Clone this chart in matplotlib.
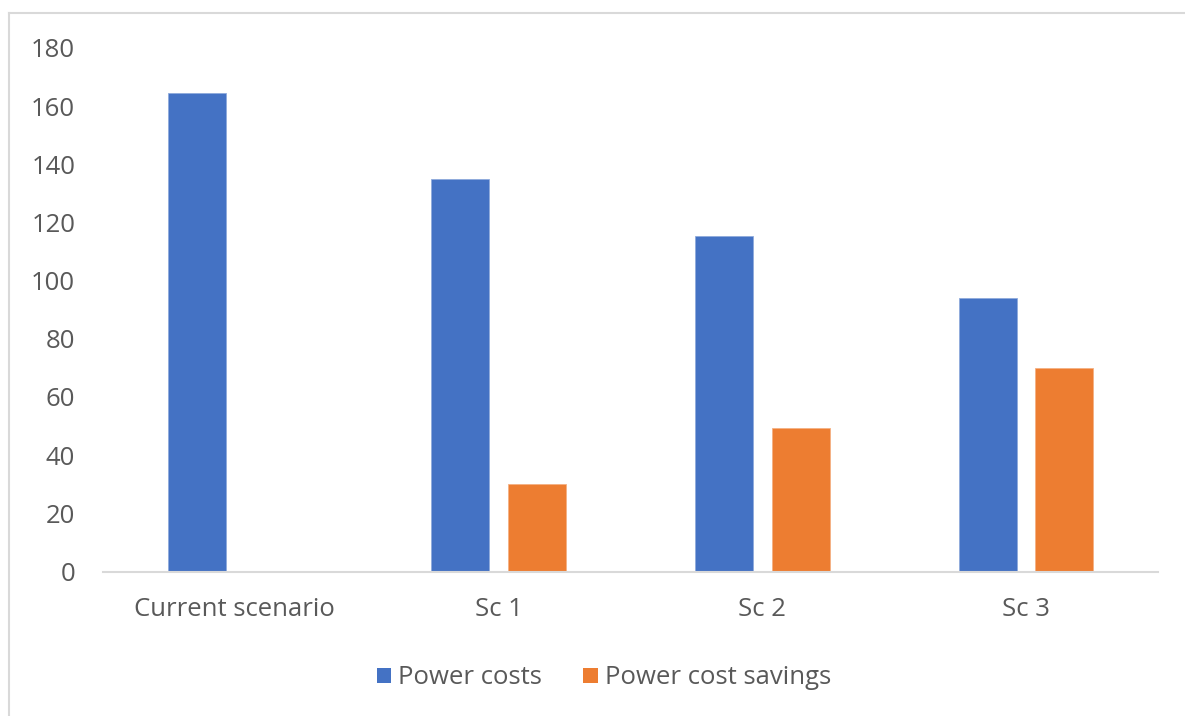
import numpy as np
import matplotlib
matplotlib.use('Agg')
from matplotlib import pyplot as plt
from matplotlib.lines import Line2D
from matplotlib.patches import Patch

categories = ['Current scenario', 'Sc 1', 'Sc 2', 'Sc 3']
power_costs = [164.5, 135, 115.5, 94]
power_savings = [0, 30, 49.5, 70]
series_names = ['Power costs', 'Power cost savings']
colors = ['#4472C4', '#ED7D31']
text_color = '#595959'

plt.rcParams['font.family'] = ['Open Sans', 'DejaVu Sans']

W, H = 1185, 716
fig = plt.figure(figsize=(W / 100, H / 100), dpi=100)
ax = fig.add_axes([103 / W, 1 - 571.5 / H, (1158 - 103) / W, (571.5 - 48) / H])

x = np.arange(len(categories))
w = 0.22
off = 0.145
ax.bar(x - off, power_costs, w, color=colors[0], edgecolor='#8faadc', linewidth=0.6)
ax.bar(x[1:] + off, power_savings[1:], w, color=colors[1], edgecolor='#f4b183', linewidth=0.6)

ax.set_xlim(-0.5, 3.5)
ax.set_ylim(0, 180)
ax.set_yticks(range(0, 181, 20))
ax.set_xticks(x)
ax.set_xticklabels(categories)

for s in ['top', 'right', 'left']:
    ax.spines[s].set_visible(False)
ax.spines['bottom'].set_color('#d9d9d9')
ax.spines['bottom'].set_linewidth(1.5)
ax.tick_params(axis='both', length=0, labelsize=18.5, colors=text_color)
ax.tick_params(axis='y', pad=20)
ax.tick_params(axis='x', pad=18)

# chart border (left and top only visible in the crop)
fig.add_artist(Line2D([9 / W, 9 / W], [0, 1 - 13 / H], transform=fig.transFigure,
                      color='#d9d9d9', linewidth=1.5))
fig.add_artist(Line2D([9 / W, 1], [1 - 13 / H, 1 - 13 / H], transform=fig.transFigure,
                      color='#d9d9d9', linewidth=1.5))

handles = [Patch(facecolor=c, edgecolor='none') for c in colors]
fig.legend(handles, series_names, loc='center', bbox_to_anchor=(604 / W, 1 - 678 / H),
           ncol=2, frameon=False, fontsize=18.5, labelcolor=text_color,
           handlelength=0.55, handleheight=0.55, handletextpad=0.3, columnspacing=1.6)

fig.savefig('out.png', dpi=100)
